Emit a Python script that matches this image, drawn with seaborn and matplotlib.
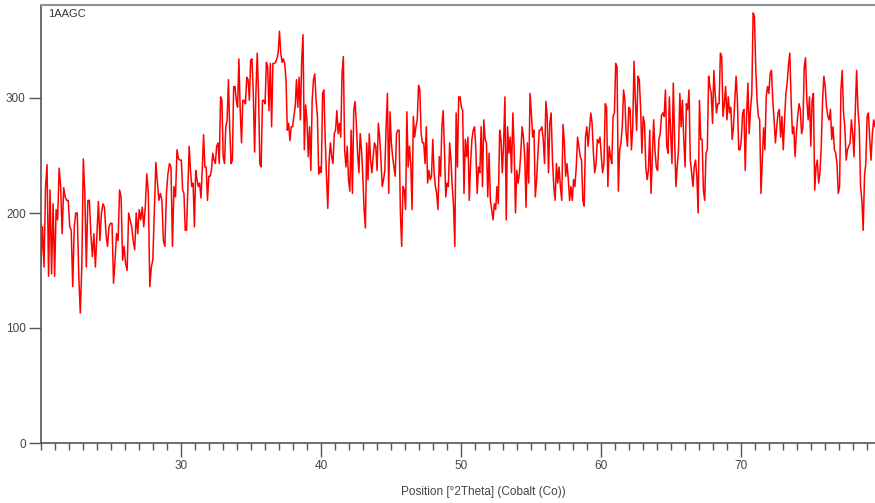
import numpy as np
import pandas as pd
import matplotlib
matplotlib.use("Agg")
import matplotlib.pyplot as plt
import seaborn as sns
from matplotlib.ticker import MultipleLocator

# Segment ranges in degrees 2Theta (start, end) and counts
seg_bounds = [20.0, 29.93, 39.93, 49.93, 59.93, 69.93, 79.57]

seg1 = [155, 188, 153, 222, 242, 145, 220, 147, 208, 145, 203, 194, 239, 223, 182, 222, 214, 211, 211, 188, 185,
        136, 188, 200, 200, 145, 113, 153, 247, 217, 153, 211, 211, 182, 162, 182, 153, 182, 210, 176, 200,
        208, 205, 182, 171, 188, 191, 191, 139, 159, 182, 176, 220, 214, 159, 171, 156, 150, 200, 194, 188,
        176, 168, 200, 182, 203, 194, 205, 188, 205, 234, 218, 136, 153, 159, 200, 244, 228, 211, 217, 211,
        176, 171, 217, 234, 243, 240, 171, 223, 214, 255, 247]
seg2 = [246, 246, 220, 217, 185, 185, 223, 258, 237, 223, 226, 188, 237, 229, 223, 226, 213, 237, 268, 240,
        240, 211, 232, 232, 237, 252, 246, 243, 258, 261, 243, 301, 298, 249, 243, 275, 281, 316, 272, 243,
        246, 310, 310, 298, 292, 334, 289, 261, 298, 298, 295, 318, 316, 298, 333, 334, 304, 253, 304, 339,
        304, 243, 240, 298, 298, 295, 331, 327, 289, 330, 275, 330, 330, 331, 334, 339, 358, 339, 331, 334,
        330, 316, 272, 278, 263, 275, 275, 284, 292, 316, 292, 318, 281, 333, 355, 255, 294, 281, 249, 275,
        237, 298, 316, 321, 298, 284, 234]
seg3 = [240, 235, 304, 307, 264, 232, 204, 246, 261, 249, 243, 269, 272, 289, 269, 278, 266, 321, 336, 255,
        240, 258, 229, 219, 272, 217, 289, 297, 278, 252, 235, 269, 255, 232, 203, 187, 261, 229, 269, 246,
        235, 249, 261, 258, 237, 278, 266, 246, 223, 229, 237, 275, 304, 217, 288, 261, 249, 240, 232, 269,
        272, 272, 200, 171, 223, 220, 203, 288, 240, 258, 243, 203, 284, 266, 275, 281, 311, 307, 269, 261,
        261, 243, 275, 226, 237, 229, 232, 264, 235, 223, 217, 203, 249, 232, 275, 289, 255, 214, 226, 223,
        261, 246, 223, 206, 171, 287, 240, 301]
seg4 = [301, 292, 289, 217, 264, 249, 266, 211, 243, 264, 272, 275, 255, 217, 240, 235, 275, 223, 281, 264,
        261, 214, 252, 211, 203, 194, 208, 203, 223, 208, 272, 264, 235, 261, 301, 194, 275, 252, 266, 235,
        287, 255, 200, 237, 226, 235, 252, 275, 266, 249, 205, 261, 226, 304, 287, 266, 272, 214, 229, 252,
        272, 272, 275, 264, 243, 297, 284, 235, 278, 287, 246, 223, 211, 243, 226, 240, 223, 211, 277, 261,
        232, 243, 229, 211, 223, 211, 229, 223, 240, 266, 258, 249, 246, 211, 206, 266, 275, 258, 272, 287,
        278, 252, 235, 243, 264, 261]
seg5 = [266, 249, 235, 243, 295, 292, 223, 258, 249, 243, 284, 287, 330, 327, 219, 255, 261, 275, 307, 298,
        269, 258, 292, 290, 255, 275, 332, 298, 272, 319, 316, 292, 252, 284, 278, 240, 229, 237, 272, 217,
        249, 281, 255, 240, 237, 264, 269, 285, 287, 284, 307, 258, 252, 301, 269, 243, 313, 264, 223, 240,
        255, 304, 275, 298, 264, 240, 295, 290, 307, 246, 235, 223, 240, 246, 232, 200, 298, 264, 264, 220,
        211, 252, 255, 319, 310, 304, 278, 324, 304, 287, 295, 295, 339, 336, 284, 295, 310, 281, 301, 287,
        292, 264, 275, 298, 319, 298, 255]
seg6 = [255, 264, 287, 290, 237, 284, 313, 269, 290, 304, 374, 371, 327, 298, 284, 281, 217, 246, 274, 255,
        301, 310, 304, 321, 324, 298, 281, 261, 275, 287, 290, 266, 284, 255, 281, 304, 313, 329, 339, 298,
        269, 275, 249, 269, 284, 295, 290, 269, 275, 327, 335, 298, 281, 301, 258, 298, 304, 220, 240, 246,
        226, 235, 258, 298, 319, 310, 292, 284, 281, 290, 264, 275, 255, 252, 243, 217, 223, 307, 324, 287,
        275, 246, 255, 258, 261, 281, 269, 249, 290, 324, 290, 275, 223, 211, 185, 232, 243, 284, 287, 264,
        246, 269, 281, 275]

segments = [seg1, seg2, seg3, seg4, seg5, seg6]
xs, ys = [], []
for i, seg in enumerate(segments):
    last = i == len(segments) - 1
    xs.append(np.linspace(seg_bounds[i], seg_bounds[i + 1], len(seg), endpoint=last))
    ys.append(np.array(seg, dtype=float))
df = pd.DataFrame({"pos": np.concatenate(xs), "counts": np.concatenate(ys)})

sns.set_style("white")
plt.rcParams['font.family'] = ['Liberation Sans', 'DejaVu Sans']

fig = plt.figure(figsize=(8.75, 5.03), dpi=100)
ax = fig.add_axes([41 / 875, 60 / 503, (875 - 41) / 875, (443 - 5) / 503])
sns.lineplot(data=df, x="pos", y="counts", ax=ax, color="#ff0000", linewidth=1.1, sort=False)

ax.set_xlim(20, 20 + (875 - 41) / 14)
ax.set_ylim(0, 438 / 1.15)
ax.set_xlabel("")
ax.set_ylabel("")

ax.set_xticks([30, 40, 50, 60, 70])
ax.xaxis.set_minor_locator(MultipleLocator(1))
ax.set_yticks([0, 100, 200, 300])
ax.tick_params(axis="x", which="major", direction="out", length=10, width=1, color="#555555",
               labelsize=8.5, labelcolor="#444444", pad=2, bottom=True)
ax.tick_params(axis="x", which="minor", direction="out", length=5, width=1, color="#555555", bottom=True)
ax.tick_params(axis="y", which="major", direction="out", length=9, width=1, color="#555555",
               labelsize=8.5, labelcolor="#444444", pad=2, left=True)

for s in ["left", "bottom"]:
    ax.spines[s].set_color("#555555")
    ax.spines[s].set_linewidth(1.2)
ax.spines["top"].set_color("#909090")
ax.spines["top"].set_linewidth(1.5)
ax.spines["right"].set_visible(False)

ax.text(0.008, 0.99, "1AAGC", transform=ax.transAxes, ha="left", va="top",
        fontsize=8, color="#333333")
fig.text(483 / 875, 11 / 503, "Position [°2Theta] (Cobalt (Co))", ha="center", va="center",
         fontsize=8.5, color="#444444")

fig.savefig("out.png", dpi=100)
